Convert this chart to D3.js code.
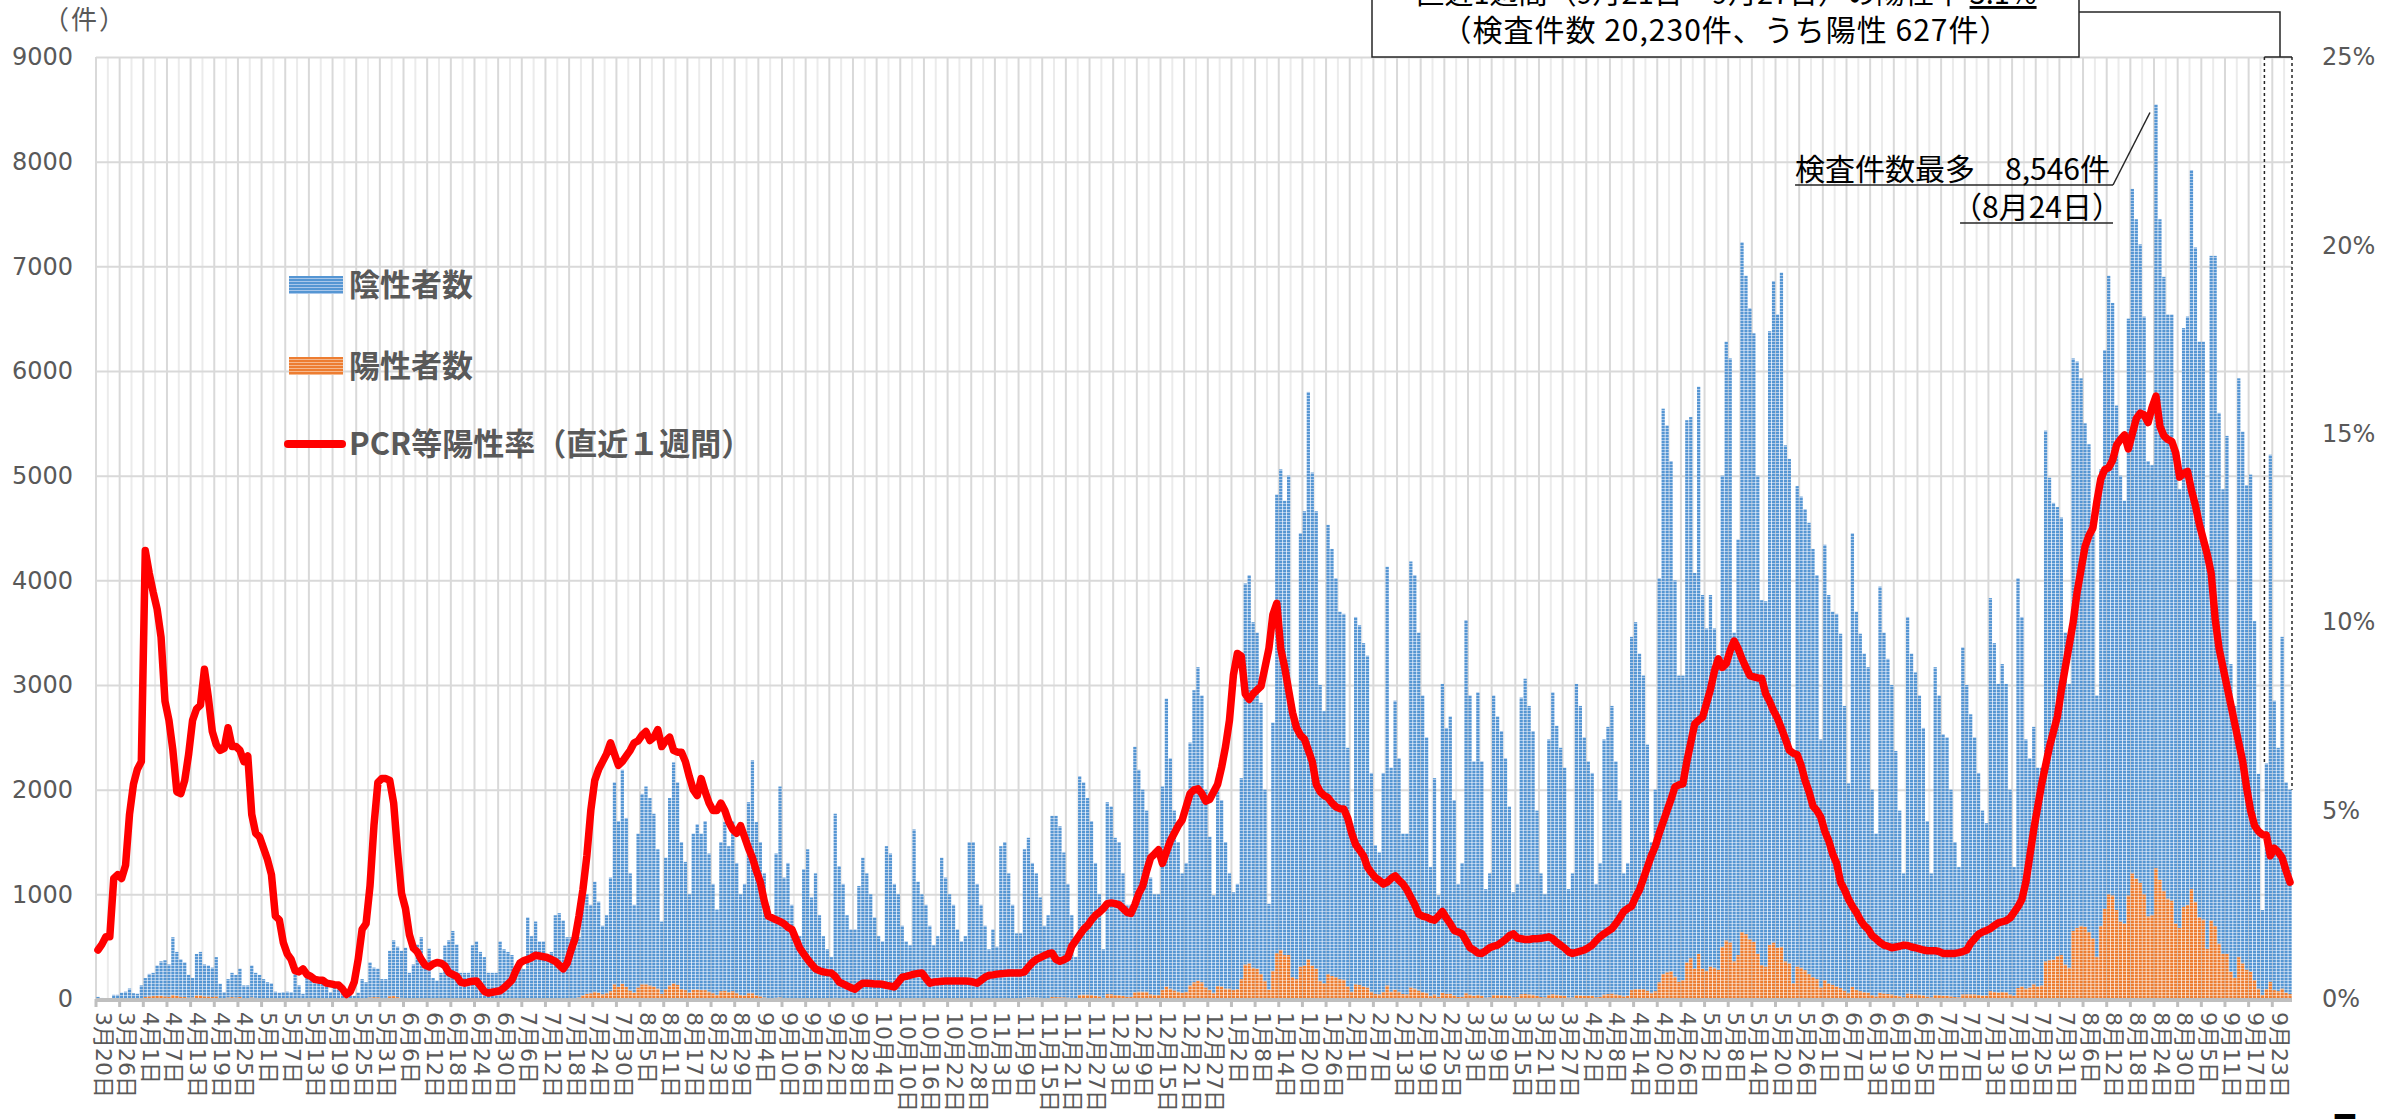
<!DOCTYPE html>
<html>
<head>
<meta charset="utf-8">
<script src="https://cdn.jsdelivr.net/npm/d3@7"></script>
<style>
  html, body { margin: 0; padding: 0; background: #fff; }
  svg { display: block; }
  text { font-family: "DejaVu Sans", "Noto Sans CJK JP", sans-serif; }
  .jp { font-family: "Noto Sans CJK JP", sans-serif; }
</style>
</head>
<body>
<svg id="chart" width="2397" height="1119"></svg>
<script>
// one label every 6 days, first day 2020-03-20
const tickLabels = [
  "3月20日","3月26日","4月1日","4月7日","4月13日","4月19日","4月25日","5月1日","5月7日","5月13日",
  "5月19日","5月25日","5月31日","6月6日","6月12日","6月18日","6月24日","6月30日","7月6日","7月12日",
  "7月18日","7月24日","7月30日","8月5日","8月11日","8月17日","8月23日","8月29日","9月4日","9月10日",
  "9月16日","9月22日","9月28日","10月4日","10月10日","10月16日","10月22日","10月28日","11月3日","11月9日",
  "11月15日","11月21日","11月27日","12月3日","12月9日","12月15日","12月21日","12月27日",
  "1月2日","1月8日","1月14日","1月20日","1月26日","2月1日","2月7日","2月13日","2月19日","2月25日",
  "3月3日","3月9日","3月15日","3月21日","3月27日","4月2日","4月8日","4月14日","4月20日","4月26日",
  "5月2日","5月8日","5月14日","5月20日","5月26日","6月1日","6月7日","6月13日","6月19日","6月25日",
  "7月1日","7月7日","7月13日","7月19日","7月25日","7月31日","8月6日","8月12日","8月18日","8月24日",
  "8月30日","9月5日","9月11日","9月17日","9月23日"
];
const labelEvery = 6;

// daily number of tests (bar height), Fri-Sun first, then Mon..Sun weeks
const totalTests = [
  20, 10, 5,
  5, 40, 40, 60, 70, 100, 55,
  50, 130, 200, 240, 250, 320, 360,
  370, 330, 590, 450, 380, 350, 230,
  200, 430, 450, 330, 320, 300, 400,
  145, 65, 190, 250, 230, 290, 130,
  130, 320, 250, 230, 190, 160, 150,
  70, 60, 65, 70, 65, 240, 130,
  50, 220, 220, 200, 160, 160, 150,
  65, 130, 130, 130, 65, 50, 30,
  60, 190, 160, 350, 300, 290, 190,
  190, 460, 560, 500, 460, 490, 250,
  330, 520, 590, 350, 480, 200, 175,
  250, 510, 560, 650, 520, 250, 250,
  250, 513, 550, 450, 400, 250, 250,
  250, 550, 475, 450, 420, 285, 285,
  285, 780, 600, 740, 550, 550, 400,
  450, 800, 820, 750, 590, 590, 500,
  590, 970, 1000, 900, 1120, 930, 700,
  800, 1160, 2070, 1700, 2190, 1730, 1200,
  900, 1580, 1960, 2030, 1920, 1770, 1430,
  740, 1350, 1920, 2260, 2070, 1500, 1310,
  1000, 1580, 1670, 1580, 1700, 1390, 1100,
  855, 1500, 1690, 1460, 1700, 1300, 1000,
  1100, 1880, 2280, 1690, 1500, 1200, 890,
  800, 1390, 2030, 1160, 1300, 900, 550,
  600, 1240, 1430, 970, 1200, 800, 600,
  475, 400, 1770, 1270, 1100, 800, 665,
  665, 1080, 1350, 1200, 1000, 780, 600,
  550, 1460, 1390, 1100, 1000, 700, 550,
  513, 1620, 1120, 1000, 900, 700, 513,
  600, 1350, 1160, 1000, 900, 665, 550,
  600, 1500, 1500, 1100, 900, 700, 475,
  665, 500, 1460, 1500, 1200, 900, 627,
  627, 1430, 1540, 1300, 1200, 970, 700,
  800, 1750, 1750, 1650, 1400, 1100, 800,
  400, 2130, 2070, 1920, 1700, 1300, 1000,
  475, 1880, 1840, 1540, 1500, 1200, 900,
  900, 2410, 2190, 2000, 1800, 1160, 1000,
  1000, 2030, 2870, 2300, 1800, 1500, 1200,
  1300, 2450, 2950, 3170, 2900, 2000, 1550,
  990, 2110, 1900, 1500, 1200, 1020, 1100,
  2110, 3970, 4050, 3600, 3500, 2830, 2000,
  910, 2640, 4820, 5060, 4760, 5000, 2640,
  2600, 4450, 4660, 5800, 5030, 4660, 3000,
  2750, 4530, 4300, 4020, 3700, 3680, 2400,
  1680, 3650, 3570, 3400, 3280, 2160, 1470,
  1400, 2160, 4130, 2210, 2850, 2300, 1580,
  1580, 4180, 4050, 3500, 2900, 2500, 1260,
  2110, 990, 3010, 2590, 2700, 1900, 1100,
  1300, 3620, 2900, 2270, 2930, 2270, 1050,
  1200, 2900, 2700, 2560, 2300, 1840, 1020,
  1100, 2880, 3060, 2800, 2560, 1800, 1200,
  1000, 2480, 2930, 2610, 2400, 2210, 1050,
  1200, 3010, 2800, 2500, 2270, 2160, 1100,
  1300, 2480, 2600, 2800, 2270, 1900, 1200,
  1300, 3460, 3600, 3300, 3090, 2430, 1500,
  2000, 4020, 5640, 5480, 5140, 4000, 3090,
  3090, 5530, 5560, 4070, 5850, 3860, 3540,
  3860, 3540, 3220, 5000, 6280, 6120, 3500,
  4390, 7230, 6910, 6600, 6360, 5000, 3810,
  3800, 6380, 6860, 6540, 6940, 5290, 5160,
  2370, 4900, 4800, 4680, 4550, 4300, 4050,
  2480, 4340, 3860, 3700, 3680, 3490, 2800,
  2060, 4450, 3700, 3490, 3300, 3170, 2000,
  1580, 3940, 3500, 3250, 3000, 2370, 1800,
  1200, 3650, 3300, 3120, 2900, 2590, 1700,
  1200, 3170, 2900, 2530, 2500, 2000, 1500,
  1260, 3360, 3000, 2720, 2500, 2160, 1800,
  1680, 3830, 3400, 3010, 3200, 3010, 2000,
  1260, 4020, 3650, 2480, 2300, 2600, 2210,
  2210, 5430, 4980, 4740, 4700, 4600, 3500,
  3010, 6120, 6090, 5930, 5500, 5300, 4580,
  2900, 5060, 6200, 6910, 6650, 5670, 5000,
  4760, 6500, 7740, 7450, 7210, 6520, 5140,
  5100, 8546, 7450, 6900, 6540, 6540, 5200,
  4870, 6410, 6520, 7920, 7180, 6280, 6280,
  4340, 7100, 7100, 5600, 4870, 5380, 3200,
  2800, 5930, 5420, 4910, 5010, 3610, 2150,
  850, 2250, 5200, 2850, 2400, 3460, 2070,
  2000
];

// daily positives (orange part of each bar)
const positives = [
  1, 0, 0,
  0, 2, 2, 3, 5, 6, 5,
  4, 10, 20, 25, 28, 30, 32,
  25, 22, 40, 30, 22, 20, 14,
  15, 35, 35, 25, 24, 20, 25,
  10, 5, 14, 18, 15, 19, 8,
  8, 15, 11, 9, 7, 5, 5,
  2, 1, 1, 1, 1, 2, 1,
  0, 2, 1, 1, 1, 1, 1,
  0, 0, 1, 0, 0, 0, 0,
  1, 4, 5, 15, 18, 17, 11,
  11, 26, 28, 18, 12, 8, 5,
  5, 6, 6, 3, 4, 2, 2,
  2, 4, 4, 4, 3, 1, 1,
  1, 2, 2, 1, 1, 0, 0,
  0, 1, 2, 2, 3, 3, 3,
  3, 8, 7, 8, 6, 6, 4,
  4, 7, 7, 8, 8, 10, 10,
  15, 35, 50, 55, 70, 60, 45,
  55, 75, 140, 115, 145, 115, 80,
  60, 110, 140, 140, 130, 120, 100,
  50, 95, 130, 150, 135, 95, 85,
  60, 90, 90, 85, 85, 70, 55,
  40, 75, 80, 65, 75, 55, 40,
  35, 55, 55, 35, 25, 15, 10,
  8, 12, 15, 10, 10, 6, 4,
  4, 6, 7, 5, 6, 4, 3,
  2, 2, 11, 8, 7, 5, 4,
  3, 4, 5, 5, 4, 3, 2,
  2, 5, 7, 8, 8, 6, 4,
  3, 10, 8, 7, 6, 4, 3,
  3, 6, 6, 5, 5, 3, 3,
  3, 7, 7, 5, 5, 4, 2,
  4, 3, 9, 10, 8, 6, 5,
  5, 12, 15, 14, 14, 12, 9,
  10, 20, 18, 17, 16, 13, 11,
  7, 40, 42, 42, 40, 32, 25,
  12, 47, 46, 38, 36, 29, 22,
  22, 65, 70, 70, 70, 45, 40,
  40, 85, 120, 100, 82, 70, 58,
  68, 130, 160, 175, 160, 110, 85,
  55, 125, 120, 100, 100, 85, 95,
  190, 330, 340, 300, 290, 240, 170,
  90, 270, 440, 470, 420, 420, 210,
  190, 310, 320, 380, 320, 290, 170,
  150, 240, 220, 210, 190, 185, 120,
  70, 140, 135, 120, 110, 70, 50,
  45, 68, 130, 70, 90, 70, 48,
  45, 110, 100, 80, 65, 55, 27,
  44, 22, 60, 50, 50, 35, 20,
  22, 55, 42, 32, 40, 30, 13,
  16, 40, 38, 37, 35, 28, 16,
  18, 46, 49, 44, 41, 29, 19,
  16, 40, 46, 40, 35, 31, 14,
  15, 37, 35, 32, 31, 31, 17,
  21, 43, 47, 52, 44, 38, 25,
  31, 85, 95, 95, 95, 80, 55,
  75, 160, 240, 255, 265, 215, 165,
  180, 350, 390, 290, 430, 290, 270,
  310, 300, 280, 500, 560, 540, 360,
  420, 640, 620, 570, 545, 430, 325,
  310, 515, 540, 490, 500, 360, 340,
  150, 310, 300, 275, 240, 210, 190,
  110, 180, 150, 135, 120, 105, 80,
  55, 115, 85, 75, 65, 60, 38,
  25, 60, 52, 48, 44, 34, 26,
  17, 52, 47, 44, 41, 36, 24,
  16, 40, 37, 32, 31, 25, 19,
  16, 45, 45, 45, 45, 39, 33,
  32, 75, 68, 62, 67, 65, 44,
  30, 105, 120, 100, 110, 140, 120,
  130, 360, 370, 375, 410, 420, 330,
  300, 650, 680, 700, 690, 640, 580,
  400, 700, 860, 1000, 990, 850, 740,
  720, 990, 1200, 1150, 1110, 1000, 790,
  800, 1250, 1140, 1030, 960, 940, 720,
  680, 880, 900, 1050, 930, 780, 760,
  480, 750, 700, 530, 430, 430, 260,
  200, 400, 340, 280, 260, 180, 100,
  40, 95, 165, 85, 75, 100, 60,
  47
];

// PCR positive rate over the last 7 days, in %
const positiveRate = [
  1.3, 1.45, 1.65,
  1.65, 3.2, 3.3, 3.2, 3.55, 4.9, 5.7,
  6.1, 6.3, 11.9, 11.3, 10.8, 10.35, 9.6,
  7.9, 7.4, 6.6, 5.5, 5.45, 5.8, 6.5,
  7.4, 7.7, 7.8, 8.75, 8.0, 7.1, 6.75,
  6.6, 6.65, 7.2, 6.7, 6.7, 6.6, 6.3,
  6.45, 4.9, 4.4, 4.3, 4.0, 3.7, 3.3,
  2.2, 2.1, 1.5, 1.2, 1.05, 0.75, 0.72,
  0.8, 0.65, 0.6, 0.52, 0.5, 0.5, 0.42,
  0.4, 0.38, 0.37, 0.27, 0.12, 0.2, 0.45,
  1.05, 1.85, 2.0, 3.0, 4.6, 5.75, 5.85,
  5.85, 5.8, 5.2, 3.9, 2.8, 2.4, 1.7,
  1.35, 1.25, 1.05, 0.9, 0.85, 0.93, 0.97,
  0.95, 0.88, 0.7, 0.65, 0.6, 0.45, 0.42,
  0.45, 0.47, 0.48, 0.35, 0.2, 0.16, 0.18,
  0.2, 0.22, 0.3, 0.4, 0.5, 0.75, 0.95,
  1.02, 1.05, 1.1, 1.16, 1.14, 1.12, 1.1,
  1.05, 1.0, 0.9, 0.8, 0.95, 1.3, 1.6,
  2.2, 2.9, 3.8, 5.0, 5.8, 6.1, 6.3,
  6.5, 6.8, 6.5, 6.2, 6.3, 6.45, 6.6,
  6.8, 6.85, 7.0, 7.1, 6.86, 6.95, 7.15,
  6.7, 6.85, 6.95, 6.6, 6.55, 6.55, 6.3,
  5.9, 5.55, 5.4, 5.85, 5.5, 5.2, 5.0,
  5.0, 5.2, 5.0, 4.7, 4.5, 4.4, 4.6,
  4.3, 4.0, 3.75, 3.4, 3.1, 2.6, 2.2,
  2.15, 2.1, 2.06, 2.0, 1.9, 1.85, 1.6,
  1.35, 1.2, 1.05, 0.92, 0.8, 0.75, 0.72,
  0.7, 0.69, 0.6, 0.45, 0.4, 0.35, 0.3,
  0.26, 0.35, 0.42, 0.42, 0.41, 0.4, 0.4,
  0.39, 0.36, 0.34, 0.32, 0.45, 0.58, 0.6,
  0.63, 0.66, 0.68, 0.69, 0.55, 0.42, 0.45,
  0.46, 0.47, 0.48, 0.48, 0.48, 0.48, 0.48,
  0.48, 0.47, 0.45, 0.42, 0.5, 0.58, 0.63,
  0.64, 0.66, 0.67, 0.68, 0.69, 0.69, 0.69,
  0.69, 0.72, 0.85, 0.97, 1.05, 1.1, 1.15,
  1.2, 1.22, 1.05, 1.0, 1.04, 1.1, 1.4,
  1.55, 1.7, 1.85, 1.95, 2.1, 2.22, 2.3,
  2.4, 2.53, 2.55, 2.53, 2.5, 2.4, 2.3,
  2.27, 2.5, 2.8, 3.0, 3.4, 3.75, 3.85,
  3.96, 3.6, 3.9, 4.2, 4.4, 4.6, 4.75,
  5.1, 5.45, 5.55, 5.58, 5.45, 5.25, 5.3,
  5.5, 5.7, 6.15, 6.7, 7.4, 8.6, 9.17,
  9.1, 8.1, 7.95, 8.1, 8.2, 8.3, 8.8,
  9.3, 10.2, 10.5, 9.3, 8.8, 8.2, 7.6,
  7.2, 7.0, 6.9, 6.6, 6.3, 5.7, 5.5,
  5.4, 5.34, 5.2, 5.1, 5.05, 5.04, 4.8,
  4.4, 4.1, 3.95, 3.8, 3.5, 3.35, 3.22,
  3.15, 3.05, 3.1, 3.2, 3.27, 3.15, 3.05,
  2.9, 2.7, 2.5, 2.25, 2.2, 2.17, 2.12,
  2.09, 2.2, 2.32, 2.15, 2.0, 1.82, 1.78,
  1.73, 1.55, 1.36, 1.3, 1.22, 1.21, 1.28,
  1.36, 1.4, 1.43, 1.5, 1.58, 1.68, 1.73,
  1.62, 1.6, 1.58, 1.58, 1.6, 1.6, 1.61,
  1.63, 1.65, 1.6, 1.5, 1.43, 1.35, 1.25,
  1.21, 1.24, 1.27, 1.3, 1.36, 1.43, 1.55,
  1.65, 1.73, 1.8, 1.87, 2.0, 2.15, 2.32,
  2.4, 2.46, 2.7, 2.9, 3.2, 3.5, 3.8,
  4.05, 4.4, 4.7, 5.0, 5.3, 5.63, 5.68,
  5.71, 6.3, 6.8, 7.3, 7.4, 7.48, 7.85,
  8.22, 8.7, 9.03, 8.8, 8.9, 9.25, 9.5,
  9.3, 9.03, 8.8, 8.58, 8.55, 8.52, 8.51,
  8.1, 7.9, 7.65, 7.45, 7.18, 6.9, 6.6,
  6.52, 6.48, 6.2, 5.8, 5.5, 5.12, 5.0,
  4.82, 4.45, 4.2, 3.85, 3.6, 3.1, 2.9,
  2.65, 2.46, 2.3, 2.1, 1.95, 1.85, 1.68,
  1.6, 1.5, 1.43, 1.4, 1.36, 1.38, 1.4,
  1.43, 1.42, 1.38, 1.36, 1.33, 1.3, 1.28,
  1.28, 1.28, 1.26, 1.21, 1.21, 1.21, 1.21,
  1.23, 1.26, 1.3, 1.48, 1.6, 1.72, 1.78,
  1.82, 1.87, 1.95, 2.02, 2.05, 2.08, 2.15,
  2.3, 2.45, 2.65, 3.1, 3.8, 4.5, 5.1,
  5.7, 6.2, 6.7, 7.1, 7.5, 8.2, 8.8,
  9.4, 10.0, 10.8, 11.4, 12.0, 12.3, 12.5,
  13.2, 13.8, 14.05, 14.1, 14.3, 14.7, 14.85,
  14.97, 14.6, 15.0, 15.4, 15.55, 15.5, 15.3,
  15.7, 16.0, 15.2, 14.95, 14.85, 14.8, 14.5,
  13.85, 13.95, 14.0, 13.5, 13.1, 12.6, 12.2,
  11.8, 11.3, 10.1, 9.3, 8.8, 8.3, 7.8,
  7.3, 6.8, 6.3, 5.6, 5.0, 4.6, 4.45,
  4.36, 4.35, 3.8, 4.0, 3.9, 3.75, 3.4,
  3.1
];

const seriesNames = ["陰性者数", "陽性者数", "PCR等陽性率（直近１週間）"];
const countTicks = [0, 1000, 2000, 3000, 4000, 5000, 6000, 7000, 8000, 9000];
const rateTicks = [0, 5, 10, 15, 20, 25];
const lastWeekDays = 7;
const lastWeekTests = 20230;

const plot = { left: 96, right: 2292, top: 57, bottom: 999 };
const n = totalTests.length;
const grey = "#595959";

const svg = d3.select("#chart");
const defs = svg.append("defs");

function stripes(id, base, light) {
  const p = defs.append("pattern")
    .attr("id", id)
    .attr("patternUnits", "userSpaceOnUse")
    .attr("width", 4)
    .attr("height", 3);
  p.append("rect").attr("width", 4).attr("height", 3).attr("fill", light);
  p.append("rect").attr("width", 4).attr("height", 2).attr("fill", base);
}
stripes("negPat", "#5596d3", "#a9c7ea");
stripes("posPat", "#ed7d31", "#f5b98f");

const x = d3.scaleLinear().domain([0, n]).range([plot.left, plot.right]);
const y = d3.scaleLinear().domain([0, 9000]).range([plot.bottom, plot.top]);
const yRate = d3.scaleLinear().domain([0, 25]).range([plot.bottom, plot.top]);

// vertical grid: every 3 days, stronger on label days
const grid = svg.append("g");
grid.selectAll("line.v")
  .data(d3.range(0, n, 3))
  .join("line")
  .attr("class", "v")
  .attr("x1", d => x(d)).attr("x2", d => x(d))
  .attr("y1", plot.top).attr("y2", plot.bottom)
  .attr("stroke", d => d % labelEvery === 0 ? "#d9d9d9" : "#ebebeb")
  .attr("stroke-width", 2);

grid.append("g")
  .attr("transform", `translate(${plot.left},0)`)
  .call(d3.axisLeft(y).tickValues(countTicks.slice(1)).tickSize(-(plot.right - plot.left)).tickFormat(""))
  .call(g => g.select(".domain").remove())
  .selectAll("line")
  .attr("stroke", "#d9d9d9")
  .attr("stroke-width", 2);

// stacked bars: positives at the bottom, negatives above
const rows = totalTests.map((t, i) => ({ i, pos: positives[i], neg: t - positives[i] }));
const stack = d3.stack().keys(["pos", "neg"])(rows);
const fills = { pos: "url(#posPat)", neg: "url(#negPat)" };
const bw = x(1) - x(0);

svg.append("g")
  .selectAll("g")
  .data(stack)
  .join("g")
  .attr("fill", s => fills[s.key])
  .selectAll("rect")
  .data(s => s)
  .join("rect")
  .attr("x", d => x(d.data.i) + 0.35)
  .attr("width", bw - 0.7)
  .attr("y", d => y(d[1]))
  .attr("height", d => Math.max(0, y(d[0]) - y(d[1])));

// x axis
const xAxis = svg.append("g");
xAxis.append("line")
  .attr("x1", plot.left).attr("x2", plot.right)
  .attr("y1", plot.bottom + 1).attr("y2", plot.bottom + 1)
  .attr("stroke", "#bfbfbf").attr("stroke-width", 4);
xAxis.selectAll("line.tick")
  .data(tickLabels)
  .join("line")
  .attr("class", "tick")
  .attr("x1", (d, k) => x(k * labelEvery)).attr("x2", (d, k) => x(k * labelEvery))
  .attr("y1", plot.bottom).attr("y2", plot.bottom + 8)
  .attr("stroke", "#bfbfbf").attr("stroke-width", 3);
xAxis.selectAll("text")
  .data(tickLabels)
  .join("text")
  .attr("transform", (d, k) => `translate(${x(k * labelEvery) + 7},${plot.bottom + 13}) rotate(90)`)
  .attr("dominant-baseline", "central")
  .attr("font-size", 22)
  .attr("fill", grey)
  .text(d => d);

// left & right axes
const yAxisL = svg.append("g")
  .attr("transform", `translate(${plot.left - 20},0)`)
  .call(d3.axisLeft(y).tickValues(countTicks).tickSize(0).tickFormat(d3.format("d")));
const yAxisR = svg.append("g")
  .attr("transform", `translate(${plot.right + 27},0)`)
  .call(d3.axisRight(yRate).tickValues(rateTicks).tickSize(0).tickFormat(d => d + "%"));
[yAxisL, yAxisR].forEach(g => {
  g.select(".domain").remove();
  g.selectAll("text")
    .attr("font-size", 24)
    .attr("font-family", "DejaVu Sans")
    .attr("fill", grey);
});

svg.append("text")
  .attr("class", "jp")
  .attr("x", 43).attr("y", 29)
  .attr("font-size", 26)
  .attr("letter-spacing", 2)
  .attr("fill", grey)
  .text("（件）");

// rate line
svg.append("path")
  .datum(positiveRate)
  .attr("fill", "none")
  .attr("stroke", "#ff0000")
  .attr("stroke-width", 7.5)
  .attr("stroke-linejoin", "round")
  .attr("stroke-linecap", "round")
  .attr("d", d3.line().x((d, i) => x(i + 0.5)).y(d => yRate(d)));

// legend
const legend = svg.append("g");
const legendY = [285, 366, 444];
legend.append("rect").attr("x", 289).attr("y", legendY[0] - 9).attr("width", 54).attr("height", 18).attr("fill", "url(#negPat)");
legend.append("rect").attr("x", 289).attr("y", legendY[1] - 9).attr("width", 54).attr("height", 18).attr("fill", "url(#posPat)");
legend.append("line")
  .attr("x1", 288).attr("x2", 342).attr("y1", legendY[2]).attr("y2", legendY[2])
  .attr("stroke", "#ff0000").attr("stroke-width", 8).attr("stroke-linecap", "round");
legend.selectAll("text")
  .data(seriesNames)
  .join("text")
  .attr("class", "jp")
  .attr("x", 349)
  .attr("y", (d, k) => legendY[k] + 11)
  .attr("font-size", 31)
  .attr("font-weight", 700)
  .attr("fill", grey)
  .text(d => d);

// last-week dotted box and its callout
const wk0 = n - lastWeekDays;
const ann = svg.append("g").attr("stroke", "#262626").attr("fill", "none").attr("stroke-width", 1.5);
ann.append("line")
  .attr("x1", x(wk0)).attr("x2", x(wk0))
  .attr("y1", plot.top).attr("y2", y(totalTests[wk0]))
  .attr("stroke-dasharray", "3,3");
ann.append("line")
  .attr("x1", x(n)).attr("x2", x(n))
  .attr("y1", plot.top).attr("y2", y(totalTests[n - 1]))
  .attr("stroke-dasharray", "3,3");
ann.append("line").attr("x1", x(wk0)).attr("x2", x(n)).attr("y1", plot.top).attr("y2", plot.top);
ann.append("polyline").attr("points", `2079,12 ${x(n) - 12},12 ${x(n) - 12},${plot.top}`);
ann.append("rect").attr("x", 1372).attr("y", -40).attr("width", 707).attr("height", 97).attr("fill", "#fff");

const weekPos = d3.sum(positives.slice(wk0));
const fmt = d3.format(",");
const box1 = svg.append("text")
  .attr("class", "jp")
  .attr("x", 1726).attr("y", 4)
  .attr("text-anchor", "middle")
  .attr("font-size", 29)
  .attr("fill", "#000");
box1.append("tspan").text("直近1週間（9月21日～9月27日）の陽性率 ");
box1.append("tspan").attr("text-decoration", "underline").text((weekPos / lastWeekTests * 100).toFixed(1) + "%");
svg.append("text")
  .attr("class", "jp")
  .attr("x", 1726).attr("y", 41)
  .attr("text-anchor", "middle")
  .attr("font-size", 30)
  .attr("letter-spacing", 1)
  .attr("fill", "#000")
  .text(`（検査件数 ${fmt(lastWeekTests)}件、うち陽性 ${fmt(weekPos)}件）`);

// maximum tests callout
const peak = d3.maxIndex(totalTests);
const pk1 = svg.append("text")
  .attr("class", "jp")
  .attr("x", 2110).attr("y", 180)
  .attr("text-anchor", "end")
  .attr("font-size", 30)
  .attr("fill", "#000")
  .text(`検査件数最多　${fmt(totalTests[peak])}件`);
const pk2 = svg.append("text")
  .attr("class", "jp")
  .attr("x", 2122).attr("y", 218)
  .attr("text-anchor", "end")
  .attr("font-size", 30)
  .attr("fill", "#000")
  .text("（8月24日）");
const b1 = pk1.node().getBBox(), b2 = pk2.node().getBBox();
ann.append("line").attr("x1", b1.x).attr("x2", 2113).attr("y1", 185).attr("y2", 185);
ann.append("line").attr("x1", b2.x + 8).attr("x2", 2113).attr("y1", 223).attr("y2", 223);
ann.append("line").attr("x1", 2113).attr("x2", x(peak + 0.5) - 6).attr("y1", 185).attr("y2", y(totalTests[peak]) + 8);

// page number, cut by the bottom edge
svg.append("text")
  .attr("x", 2330).attr("y", 1147)
  .attr("font-size", 44)
  .attr("font-weight", 700)
  .attr("fill", "#000")
  .text("5");
</script>
</body>
</html>
